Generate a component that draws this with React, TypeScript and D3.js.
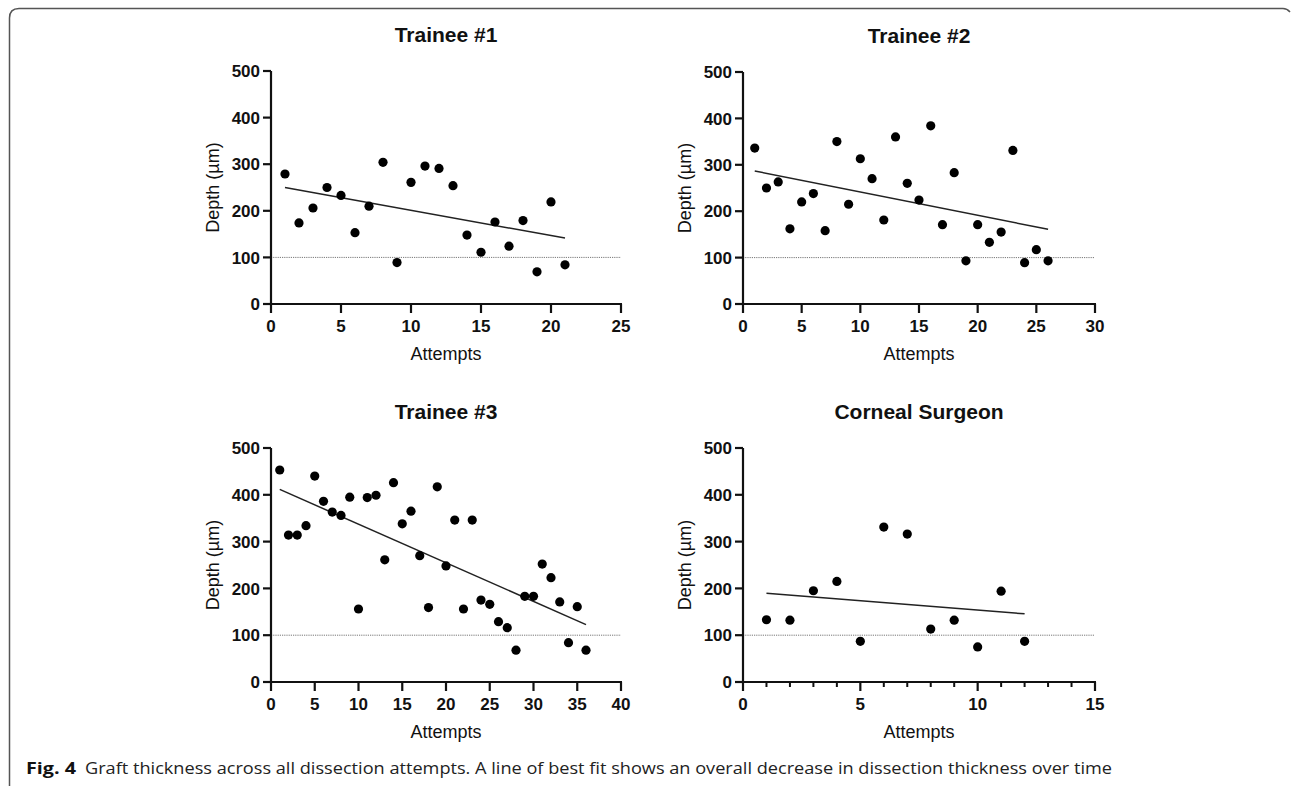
import React from "react";
import * as d3 from "d3";

// ---- Data ----
const trainee1Attempts = [1,2,3,4,5,6,7,8,9,10,11,12,13,14,15,16,17,18,19,20,21];
const trainee1Depth = [279,174,206,250,233,153,210,304,89,261,296,291,254,148,111,176,124,179,69,219,84];

const trainee2Attempts = [1,2,3,4,5,6,7,8,9,10,11,12,13,14,15,16,17,18,19,20,21,22,23,24,25,26];
const trainee2Depth = [336,250,263,162,220,238,158,350,215,313,270,181,360,260,224,384,171,283,93,171,133,155,331,89,117,93];

const trainee3Attempts = [1,2,3,4,5,6,7,8,9,10,11,12,13,14,15,16,17,18,19,20,21,22,23,24,25,26,27,28,29,30,31,32,33,34,35,36];
const trainee3Depth = [453,314,314,334,440,386,363,356,395,156,394,399,261,426,338,365,270,159,417,248,346,156,346,175,166,129,116,68,183,183,252,223,171,84,161,68];

const surgeonAttempts = [1,2,3,4,5,6,7,8,9,10,11,12];
const surgeonDepth = [133,132,195,215,87,331,316,113,132,75,194,87];

const yTicks = [0, 100, 200, 300, 400, 500];
const threshold = 100;
const panelTitles = ["Trainee #1", "Trainee #2", "Trainee #3", "Corneal Surgeon"];
const xMaxes = [25, 30, 40, 15];
const captionLabel = "Fig. 4";
const captionText =
  "Graft thickness across all dissection attempts. A line of best fit shows an overall decrease in dissection thickness over time";

const FONT = "'Liberation Sans', Arial, Helvetica, sans-serif";

function fit(xs: number[], ys: number[]) {
  const mx = d3.mean(xs)!;
  const my = d3.mean(ys)!;
  let num = 0, den = 0;
  xs.forEach((x, i) => { num += (x - mx) * (ys[i] - my); den += (x - mx) * (x - mx); });
  const b = num / den;
  return (x: number) => my + b * (x - mx);
}

type PanelProps = {
  title: string; xs: number[]; ys: number[]; xMax: number;
  left: number; right: number; top: number; bottom: number; minor?: boolean;
};

function Panel({ title, xs, ys, xMax, left, right, top, bottom, minor }: PanelProps) {
  const x = d3.scaleLinear().domain([0, xMax]).range([left, right]);
  const y = d3.scaleLinear().domain([0, 500]).range([bottom, top]);
  const xTicks = d3.range(0, xMax + 0.001, 5);
  const minorTicks = minor ? d3.range(0, xMax + 0.001, 1).filter((v) => v % 5 !== 0) : [];
  const f = fit(xs, ys);
  const x0 = d3.min(xs)!, x1 = d3.max(xs)!;
  const line = d3.line<number>().x((v) => x(v)).y((v) => y(f(v)));
  const cx = (left + right) / 2;
  const cy = (top + bottom) / 2;
  return (
    <g>
      <text x={cx} y={top - 29} textAnchor="middle" fontFamily={FONT} fontWeight="bold" fontSize={21} fill="#111">{title}</text>
      <line x1={left} x2={right} y1={y(threshold)} y2={y(threshold)} stroke="#777" strokeWidth={1} strokeDasharray="1.2,1" />
      <line x1={left} x2={left} y1={top} y2={bottom + 1} stroke="#111" strokeWidth={2.2} />
      <line x1={left - 1} x2={right + 1} y1={bottom} y2={bottom} stroke="#111" strokeWidth={2.2} />
      {yTicks.map((t) => (
        <g key={"y" + t}>
          <line x1={left - 8} x2={left} y1={y(t)} y2={y(t)} stroke="#111" strokeWidth={2.2} />
          <text x={left - 11} y={y(t)} dy="0.36em" textAnchor="end" fontFamily={FONT} fontWeight="bold" fontSize={17} fill="#111">{t}</text>
        </g>
      ))}
      {xTicks.map((t) => (
        <g key={"x" + t}>
          <line x1={x(t)} x2={x(t)} y1={bottom} y2={bottom + 9} stroke="#111" strokeWidth={2.2} />
          <text x={x(t)} y={bottom + 28} textAnchor="middle" fontFamily={FONT} fontWeight="bold" fontSize={17} fill="#111">{t}</text>
        </g>
      ))}
      {minorTicks.map((t) => (
        <line key={"m" + t} x1={x(t)} x2={x(t)} y1={bottom} y2={bottom + 5} stroke="#111" strokeWidth={2} />
      ))}
      <text x={cx} y={bottom + 56} textAnchor="middle" fontFamily={FONT} fontSize={18} fill="#111">Attempts</text>
      <text transform={`translate(${left - 52},${cy}) rotate(-90)`} textAnchor="middle" fontFamily={FONT} fontSize={18} fill="#111">Depth (µm)</text>
      <path d={line([x0, x1]) || ""} fill="none" stroke="#222" strokeWidth={1.5} />
      {xs.map((v, i) => (
        <circle key={i} cx={x(v)} cy={y(ys[i])} r={4.6} fill="#000" />
      ))}
    </g>
  );
}

export default function App() {
  return (
    <svg width={1292} height={786} style={{ position: "absolute", left: 0, top: 0, background: "#fff" }}>
      <rect x={0} y={0} width={1292} height={786} fill="#fff" />
      <path d="M 9.5 786 L 9.5 18 Q 9.5 8.5 19 8.5 L 1283 8.5 Q 1287 8.5 1290 12" fill="none" stroke="#555" strokeWidth={1.5} />
      <Panel title={panelTitles[0]} xs={trainee1Attempts} ys={trainee1Depth} xMax={xMaxes[0]} left={271} right={621} top={71} bottom={304} />
      <Panel title={panelTitles[1]} xs={trainee2Attempts} ys={trainee2Depth} xMax={xMaxes[1]} left={743} right={1095} top={72} bottom={304} />
      <Panel title={panelTitles[2]} xs={trainee3Attempts} ys={trainee3Depth} xMax={xMaxes[2]} left={271} right={621} top={448} bottom={682} />
      <Panel title={panelTitles[3]} xs={surgeonAttempts} ys={surgeonDepth} xMax={xMaxes[3]} left={743} right={1095} top={448} bottom={682} minor />
      <text x={26} y={774} fontFamily="'Open Sans', 'Noto Sans', sans-serif" fontWeight="bold" fontSize={16} fill="#111" textLength={50} lengthAdjust="spacingAndGlyphs">{captionLabel}</text>
      <text x={85} y={774} fontFamily="'Open Sans', 'Noto Sans', sans-serif" fontSize={16} fill="#222" textLength={1027} lengthAdjust="spacingAndGlyphs">{captionText}</text>
    </svg>
  );
}
